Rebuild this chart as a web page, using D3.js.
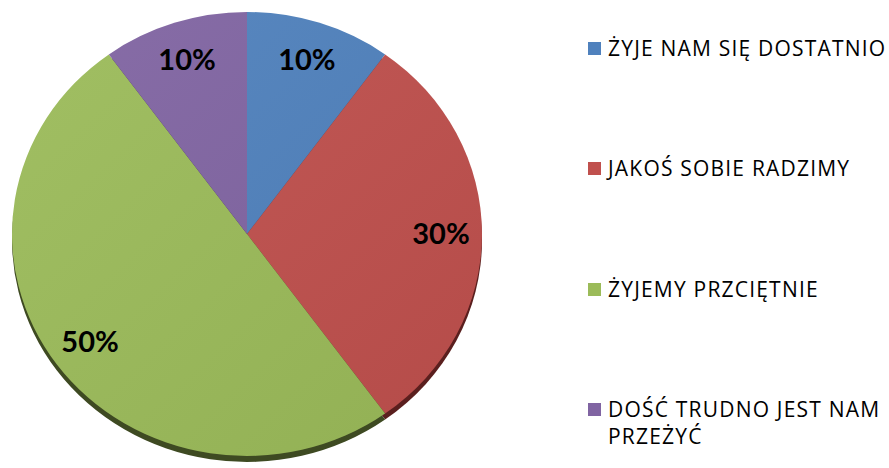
<!DOCTYPE html>
<html>
<head>
<meta charset="utf-8">
<script src="https://cdn.jsdelivr.net/npm/d3@7"></script>
<style>
body { margin: 0; background: #fff; }
svg { display: block; }
</style>
</head>
<body>
<script>
var categories = ['ŻYJE NAM SIĘ DOSTATNIO', 'JAKOŚ SOBIE RADZIMY', 'ŻYJEMY PRZCIĘTNIE', 'DOŚĆ TRUDNO JEST NAM PRZEŻYĆ'];
var values = [10, 30, 50, 10];
var colors = ['#4F81BD', '#C0504D', '#9BBB59', '#8064A2'];
var shadowColors = ['#2c4a6e', '#5a1f1e', '#3e4a22', '#3e2f52'];

var width = 889, height = 468;
var cx = 247, cy = 234, r = 235, ry = 222;

var svg = d3.select('body').append('svg')
	.attr('width', width).attr('height', height);

var data = values.map(function (v, i) {
	return { name: categories[i], value: v, i: i };
});

var pie = d3.pie().sort(null).value(function (d) { return d.value; });
var arcs = pie(data);
var arc = d3.arc().innerRadius(0).outerRadius(r);
var total = d3.sum(values);

// shadow under the pie
var shadow = svg.append('g')
	.attr('transform', 'translate(' + cx + ',' + (cy + 6) + ') scale(1,' + (ry / r) + ')');
shadow.selectAll('path').data(arcs).enter().append('path')
	.attr('d', arc)
	.attr('fill', function (d) { return shadowColors[d.data.i]; });

var defs = svg.append('defs');
var grad = defs.append('linearGradient').attr('id', 'shade')
	.attr('x1', 0).attr('y1', 0).attr('x2', 1).attr('y2', 1);
grad.append('stop').attr('offset', 0).attr('stop-color', '#fff').attr('stop-opacity', 0.06);
grad.append('stop').attr('offset', 1).attr('stop-color', '#000').attr('stop-opacity', 0.06);

var g = svg.append('g')
	.attr('transform', 'translate(' + cx + ',' + cy + ') scale(1,' + (ry / r) + ')');
g.selectAll('path.slice').data(arcs).enter().append('path')
	.attr('class', 'slice')
	.attr('d', arc)
	.attr('fill', function (d) { return colors[d.data.i]; });
g.append('circle').attr('r', r).attr('fill', 'url(#shade)');

// labels
var labelArc = d3.arc().innerRadius(194).outerRadius(194);
svg.append('g').selectAll('text').data(arcs).enter().append('text')
	.attr('x', function (d) { return cx + labelArc.centroid(d)[0]; })
	.attr('y', function (d) { return cy + labelArc.centroid(d)[1] * ry / r; })
	.attr('dy', '0.36em')
	.attr('text-anchor', 'middle')
	.attr('font-family', 'Lato, sans-serif')
	.attr('font-weight', 'bold')
	.attr('font-size', 29)
	.attr('fill', '#000')
	.text(function (d) { return Math.round(d.data.value / total * 100) + '%'; });

// legend
var legendY = [56, 176, 297, 417];
var legend = svg.append('g').selectAll('g').data(data).enter().append('g')
	.attr('transform', function (d, i) { return 'translate(588,' + legendY[i] + ')'; });
legend.append('rect')
	.attr('x', 0).attr('y', -14).attr('width', 13).attr('height', 13)
	.attr('fill', function (d) { return colors[d.i]; });
legend.append('text')
	.attr('x', 20).attr('y', 0)
	.attr('font-family', '"Open Sans", sans-serif')
	.attr('font-size', 21)
	.attr('letter-spacing', 1.2)
	.attr('fill', '#000')
	.each(function (d) {
		var t = d3.select(this);
		var lines = d.name === 'DOŚĆ TRUDNO JEST NAM PRZEŻYĆ' ? ['DOŚĆ TRUDNO JEST NAM', 'PRZEŻYĆ'] : [d.name];
		lines.forEach(function (l, k) {
			t.append('tspan').attr('x', 20).attr('dy', k === 0 ? 0 : 27).text(l);
		});
	});
</script>
</body>
</html>
